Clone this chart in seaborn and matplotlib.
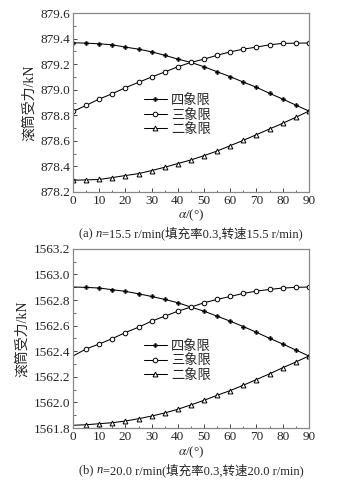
import numpy as np
import matplotlib
matplotlib.use("Agg")
import matplotlib.pyplot as plt
import seaborn as sns

# angle values (deg)
alpha = [0, 5, 10, 15, 20, 25, 30, 35, 40, 45, 50, 55, 60, 65, 70, 75, 80, 85, 90]

# (a) n = 15.5 r/min
q4_a = [879.368, 879.365, 879.360, 879.352, 879.334, 879.318, 879.297, 879.270, 879.240, 879.214,
        879.180, 879.141, 879.102, 879.060, 879.019, 878.972, 878.927, 878.880, 878.833]
q3_a = [878.830, 878.878, 878.927, 878.969, 879.016, 879.058, 879.100, 879.139, 879.180, 879.214,
        879.240, 879.270, 879.297, 879.318, 879.334, 879.352, 879.363, 879.365, 879.366]
q2_a = [878.291, 878.294, 878.297, 878.312, 878.328, 878.343, 878.367, 878.393, 878.422, 878.450,
        878.484, 878.520, 878.562, 878.604, 878.648, 878.693, 878.737, 878.784, 878.833]

# (b) n = 20.0 r/min
q4_b = [1562.902, 1562.899, 1562.894, 1562.881, 1562.868, 1562.849, 1562.828, 1562.805, 1562.779, 1562.745,
        1562.713, 1562.674, 1562.635, 1562.593, 1562.548, 1562.501, 1562.457, 1562.410, 1562.363]
q3_b = [1562.363, 1562.418, 1562.457, 1562.499, 1562.546, 1562.588, 1562.635, 1562.674, 1562.713, 1562.745,
        1562.779, 1562.805, 1562.828, 1562.852, 1562.870, 1562.883, 1562.894, 1562.899, 1562.902]
q2_b = [1561.822, 1561.826, 1561.834, 1561.842, 1561.855, 1561.873, 1561.894, 1561.918, 1561.947, 1561.981,
        1562.017, 1562.056, 1562.093, 1562.135, 1562.179, 1562.224, 1562.271, 1562.316, 1562.363]

labels = ["四象限", "三象限", "二象限"]
ylims = [(878.2, 879.6), (1561.8, 1563.2)]
# caption pieces: (text, italic?)
captions = [[("(a) ", False), ("n", True), ("=15.5 r/min(填充率0.3,转速15.5 r/min)", False)],
            [("(b) ", False), ("n", True), ("=20.0 r/min(填充率0.3,转速20.0 r/min)", False)]]

sns.set_style("ticks")
plt.rcParams['font.family'] = ['Liberation Serif', 'Noto Sans CJK SC']
plt.rcParams['mathtext.fontset'] = 'stix'

fig = plt.figure(figsize=(3.51, 4.87), dpi=100)
ax_a = fig.add_axes([0.208, 0.606, 0.672, 0.367])
ax_b = fig.add_axes([0.208, 0.121, 0.672, 0.368])

styles = [dict(marker='P', ms=3.2, mfc='black', mec='black', mew=0.2),
          dict(marker='o', ms=3.3, mfc='white', mec='black', mew=0.7),
          dict(marker='^', ms=3.5, mfc='white', mec='black', mew=0.7)]

renderer = fig.canvas.get_renderer()


def draw_caption(ax, pieces, y, size):
    # measure total width, then lay pieces left to right, centred on the axes
    texts = []
    for s, it in pieces:
        t = ax.text(0, y, s, transform=ax.transAxes, ha='left', va='center', fontsize=size,
                    style='italic' if it else 'normal')
        texts.append(t)
    widths = [t.get_window_extent(renderer).width for t in texts]
    ax_box = ax.get_window_extent(renderer)
    x0 = ax_box.x0 + (ax_box.width - sum(widths)) / 2
    for t, w in zip(texts, widths):
        t.set_x((x0 - ax_box.x0) / ax_box.width)
        x0 += w


legend_y = [0.43, 0.375]
panels = [(ax_a, [q4_a, q3_a, q2_a], 0), (ax_b, [q4_b, q3_b, q2_b], 1)]
for ax, series, i in panels:
    start = 0 if i == 0 else 1
    for y, lab, st in zip(series, labels, styles):
        sns.lineplot(x=alpha, y=y, ax=ax, color='black', lw=0.75, label=lab,
                     markevery=slice(start, None), **st)
    ax.set_xlim(0, 90)
    ax.set_ylim(*ylims[i])
    ax.set_xticks(np.arange(0, 91, 10))
    ax.set_xticks(np.arange(0, 91, 5), minor=True)
    ax.set_yticks(np.arange(ylims[i][0], ylims[i][1] + 0.01, 0.2))
    ax.set_yticks(np.arange(ylims[i][0], ylims[i][1] + 0.01, 0.1), minor=True)
    ax.yaxis.set_major_formatter(matplotlib.ticker.FormatStrFormatter('%.1f'))
    ax.tick_params(which='both', direction='in', top=False, right=False, labelsize=9.5, pad=2)
    ax.tick_params(which='major', length=3, width=0.6)
    ax.tick_params(which='minor', length=1.8, width=0.5)
    for s in ax.spines.values():
        s.set_color('#888888')
        s.set_linewidth(0.9)
    ax.set_ylabel("滚筒受力/kN", fontsize=10, labelpad=3)
    ax.set_xlabel(r"$\alpha$/(°)", fontsize=9.5, labelpad=1)
    ax.legend(loc='center left', bbox_to_anchor=(0.26, legend_y[i]), frameon=False, fontsize=9.5,
              handlelength=1.8, handletextpad=0.3, labelspacing=0.12, borderpad=0.2)
    draw_caption(ax, captions[i], -0.235, 9)

fig.savefig("out.png", dpi=100)
